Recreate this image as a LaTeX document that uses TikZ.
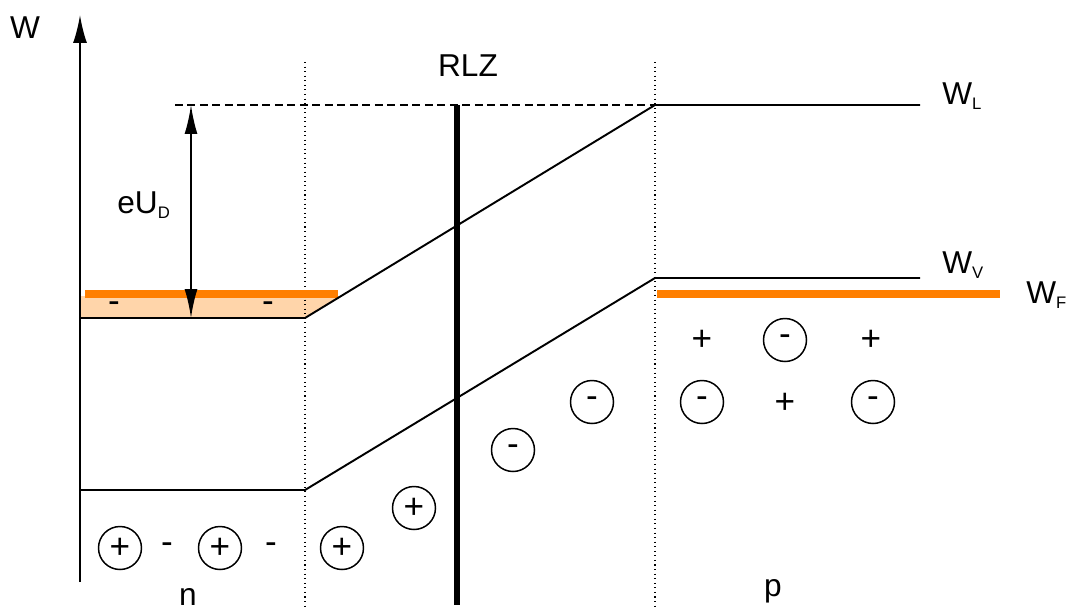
\documentclass[tikz,border=0pt]{standalone}
\usepackage{fontspec}
\setmainfont{Liberation Sans}
\usetikzlibrary{positioning, arrows.meta}
\definecolor{fermiorange}{RGB}{255,127,0}
\definecolor{electronfill}{RGB}{255,213,170}
\newcommand{\lowidx}[1]{\raisebox{-3.4pt}{\fontsize{9.5}{10}\selectfont #1}}
\tikzset{
	labe/.style={
		inner sep=0pt,
		font={\fontsize{18}{21}\selectfont}
	},
	band/.style={
		line width=1.1pt
	},
	fermi/.style={
		draw=fermiorange,
		line width=4.4pt
	},
	border/.style={
		dotted,
		line width=0.6pt
	},
	rlzline/.style={
		line width=3.7pt
	},
	ion/.style={
		draw,
		circle,
		line width=0.85pt,
		minimum size=0.86cm,
		inner sep=0pt,
		font={\fontsize{20}{22}\selectfont}
	},
	carrier/.style={
		inner sep=0pt,
		font={\fontsize{20}{22}\selectfont}
	},
	axisarrow/.style={
		-{Latex[length=0.56cm,width=0.28cm]},
		line width=1.1pt
	},
	dimarrow/.style={
		{Latex[length=0.58cm,width=0.26cm]}-{Latex[length=0.58cm,width=0.26cm]},
		line width=1.1pt
	}
}

\begin{document}
\begin{tikzpicture}[x=0.02cm, y=-0.02cm]
\useasboundingbox (0,0) rectangle (1069,609);

% band corners
\coordinate (cn) at (80,318);
\coordinate (cnj) at (305,318);
\coordinate (cpj) at (655,105);
\coordinate (cp) at (920,105);
\coordinate (vn) at (80,490);
\coordinate (vnj) at (305,490);
\coordinate (vpj) at (655,278);
\coordinate (vp) at (920,278);

% electrons in the n side
\fill[electronfill] (80,296) -- (341,296) -- (cnj) -- (cn) -- cycle;

\draw[border] (305,62) -- (305,609);
\draw[border] (655,62) -- (655,609);

\draw[fermi] (85,294) -- (338,294);
\draw[fermi] (657,294) -- (1000,294);

\draw[band] (cn) -- (cnj) -- (cpj) -- (cp);
\draw[band] (vn) -- (vnj) -- (vpj) -- (vp);
\draw[band, dash pattern=on 0.16cm off 0.09cm] (175,105) -- (cpj);

\draw[rlzline] (457,105) -- (457,605);

\draw[axisarrow] (80,582) -- (80,15);
\draw[dimarrow] (191,318) -- (191,105);

\node[labe] (w) at (25,28) {W};
\node[labe] (rlz) at (468,66) {RLZ};
\node[labe, anchor=base west] (eud) at (117,213) {eU\lowidx{D}};
\node[labe, anchor=base west] (wl) at (942,104) {W\lowidx{L}};
\node[labe, anchor=base west] (wv) at (942,273) {W\lowidx{V}};
\node[labe, anchor=base west] (wf) at (1026,303) {W\lowidx{F}};
\node[labe, anchor=base] (n) at (188,605) {n};
\node[labe, anchor=base] (p) at (773,596) {p};

% free electrons
\node[carrier] (e1) at (114,307) {-};
\node[carrier] (e2) at (268,307) {-};

% n side
\node[ion] (d1) at (120,548) {+};
\node[carrier] (m1) at (167,548) {-};
\node[ion] (d2) at (220,548) {+};
\node[carrier] (m2) at (271,548) {-};
\node[ion] (d3) at (342,548) {+};
\node[ion] (d4) at (414,508) {+};

% p side
\node[ion] (a1) at (513,450) {-};
\node[ion] (a2) at (592,402) {-};
\node[carrier] (h1) at (702,340) {+};
\node[ion] (a3) at (785,340) {-};
\node[carrier] (h2) at (871,340) {+};
\node[ion] (a4) at (702,402) {-};
\node[carrier] (h3) at (785,403) {+};
\node[ion] (a5) at (873,402) {-};

\end{tikzpicture}
\end{document}
